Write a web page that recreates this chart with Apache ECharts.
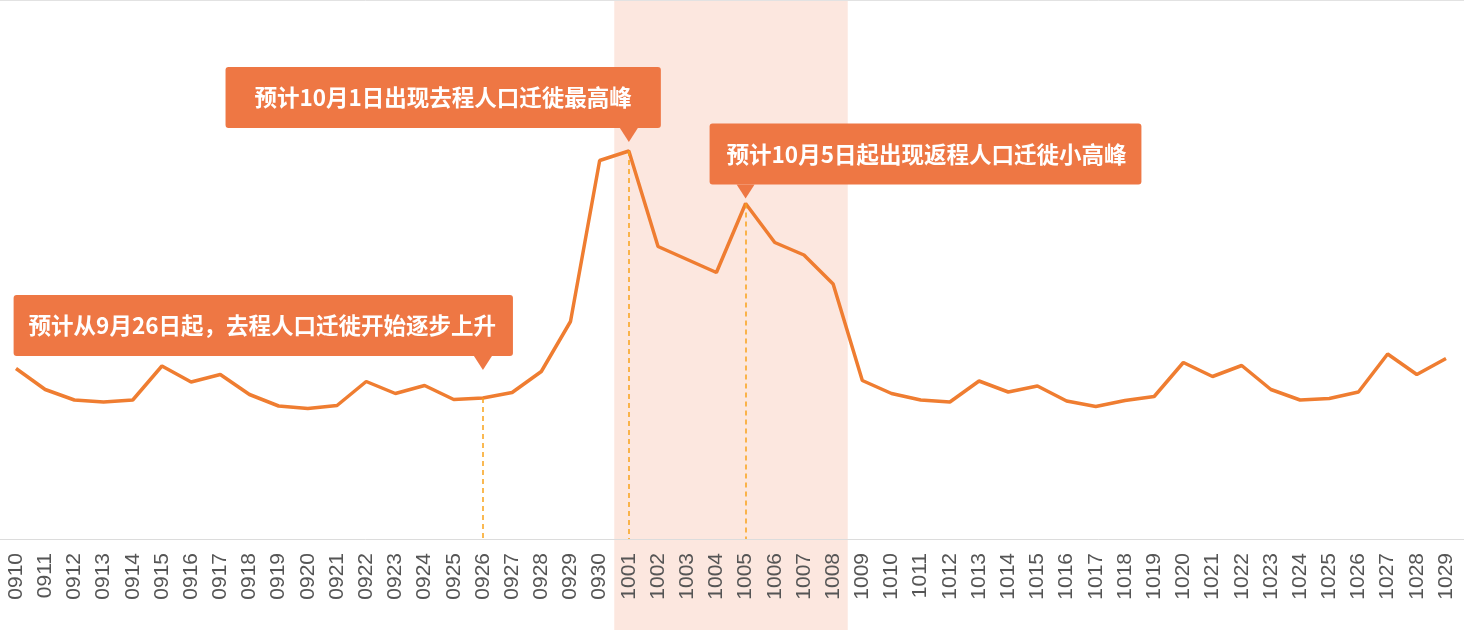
<!DOCTYPE html>
<html>
<head>
<meta charset="utf-8">
<script src="https://cdn.jsdelivr.net/npm/echarts@6/dist/echarts.min.js"></script>
<style>
html,body{margin:0;padding:0;background:#fff;}
#chart{width:1464px;height:630px;}
</style>
</head>
<body>
<div id="chart"></div>
<script>
// ---- data ----
const categories = ['0910','0911','0912','0913','0914','0915','0916','0917','0918','0919',
  '0920','0921','0922','0923','0924','0925','0926','0927','0928','0929',
  '0930','1001','1002','1003','1004','1005','1006','1007','1008','1009',
  '1010','1011','1012','1013','1014','1015','1016','1017','1018','1019',
  '1020','1021','1022','1023','1024','1025','1026','1027','1028','1029'];
const values = [34.1,29.9,27.8,27.4,27.8,34.6,31.4,32.9,28.9,26.6,
  26.1,26.7,31.5,29.1,30.7,27.9,28.2,29.3,33.5,43.5,
  75.7,77.6,58.5,55.9,53.3,67.1,59.3,56.8,51.0,31.7,
  29.1,27.8,27.4,31.6,29.4,30.6,27.6,26.5,27.7,28.5,
  35.3,32.5,34.7,29.9,27.8,28.1,29.4,37.0,32.9,36.1];
const holidayStart = '1001';
const holidayEnd = '1008';
const noteCategories = ['0926','1001','1005'];
const noteTexts = ['预计从9月26日起，去程人口迁徙开始逐步上升',
  '预计10月1日出现去程人口迁徙最高峰',
  '预计10月5日起出现返程人口迁徙小高峰'];

// ---- layout / style ----
const noteLayout = [
  {align:'right', offset:[30,-42], tri:-35, pad:[19,17,19,15]},
  {align:'right', offset:[32,-23], tri:-16, pad:[19,29,19,29]},
  {align:'left',  offset:[-36,-19], tri:-12, pad:[19,15,19,17]}
];
const LINE = '#ef7d31';
const BOX = '#ee7744';
const DASH = '#f9a21a';
const SHADE = '#fce7df';

const chart = echarts.init(document.getElementById('chart'));
const idx = c => categories.indexOf(c);

const markPoints = [];
noteCategories.forEach((c, i) => {
  const v = values[idx(c)];
  const L = noteLayout[i];
  markPoints.push({
    coord: [c, v],
    symbol: 'path://M0,0L18,0L9,14Z',
    symbolSize: [18, 14],
    symbolOffset: [0, L.tri],
    itemStyle: {color: BOX},
    label: {show: false}
  });
  markPoints.push({
    coord: [c, v],
    symbol: 'circle',
    symbolSize: 0,
    label: {
      show: true,
      position: 'inside',
      align: L.align,
      verticalAlign: 'bottom',
      offset: L.offset,
      formatter: noteTexts[i],
      color: '#fff',
      fontSize: 22.5,
      fontWeight: 'bold',
      fontFamily: '"Noto Sans CJK SC", sans-serif',
      lineHeight: 23,
      backgroundColor: BOX,
      borderRadius: 3,
      padding: L.pad
    }
  });
});

const dashStyle = {color: DASH, type: [5, 4], width: 1.5, opacity: 1};

const option = {
  animation: false,
  grid: [
    {left: 16, right: 18, top: 14, bottom: 91},
    {left: 16, right: 18, top: 1, bottom: 0},
    {left: 0, right: 0, top: 0, bottom: 91}
  ],
  xAxis: [
    {
      type: 'category', gridIndex: 0, data: categories, boundaryGap: false, z: 10,
      axisLine: {show: false}, axisTick: {show: false},
      axisLabel: {interval: 0, rotate: 90, margin: 14, color: '#555', fontSize: 21,
        fontFamily: '"Liberation Sans", Arial, sans-serif'}
    },
    {type: 'value', gridIndex: 1, min: 0, max: categories.length - 1, show: false},
    {type: 'category', gridIndex: 2, data: [], position: 'bottom',
      axisLine: {show: true, lineStyle: {color: '#dcdcdc', width: 1}},
      axisTick: {show: false}, axisLabel: {show: false}},
    {type: 'category', gridIndex: 2, data: [], position: 'top',
      axisLine: {show: true, lineStyle: {color: '#e2e2e2', width: 1}},
      axisTick: {show: false}, axisLabel: {show: false}}
  ],
  yAxis: [
    {type: 'value', gridIndex: 0, min: 0, max: 105, show: false},
    {type: 'value', gridIndex: 1, min: 0, max: 1, show: false},
    {type: 'value', gridIndex: 2, min: 0, max: 1, show: false}
  ],
  series: [
    {
      type: 'line', xAxisIndex: 1, yAxisIndex: 1, z: 0,
      data: [[0, 0]], symbol: 'none', lineStyle: {opacity: 0},
      markArea: {
        silent: true, z: -1,
        itemStyle: {color: SHADE},
        data: [[{xAxis: idx(holidayStart) - 0.5}, {xAxis: idx(holidayEnd) + 0.5}]]
      }
    },
    {
      type: 'line', xAxisIndex: 0, yAxisIndex: 0, z: 3,
      data: values, symbol: 'none', smooth: false,
      lineStyle: {color: LINE, width: 3.5},
      markLine: {
        silent: true, symbol: ['none', 'none'], label: {show: false},
        lineStyle: dashStyle,
        emphasis: {disabled: true},
        data: noteCategories.map(c => [
          {coord: [c, values[idx(c)]], lineStyle: dashStyle},
          {coord: [c, 0], lineStyle: dashStyle}
        ])
      },
      markPoint: {silent: true, data: markPoints}
    }
  ]
};
chart.setOption(option);
</script>
</body>
</html>
